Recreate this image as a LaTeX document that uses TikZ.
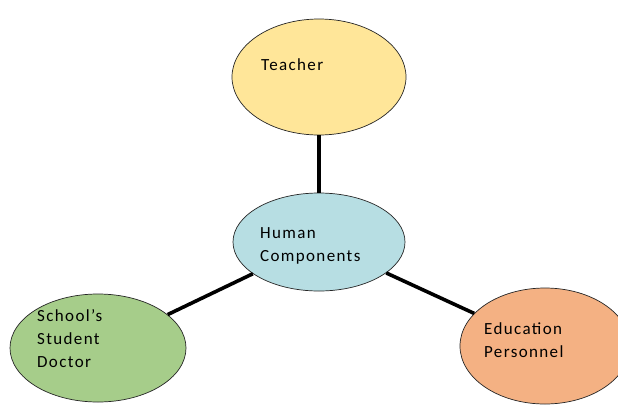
\documentclass[tikz,border=0pt]{standalone}
\usepackage{fontspec}
\setmainfont{Carlito}
\usetikzlibrary{shapes.geometric}
\definecolor{cTeacher}{HTML}{FFE699}
\definecolor{cHuman}{HTML}{B7DEE3}
\definecolor{cSchool}{HTML}{A6CD8A}
\definecolor{cEdu}{HTML}{F4B183}
\tikzset{
  blob/.style={ellipse, draw=black!85, line width=0.7pt, inner sep=0pt},
  lbl/.style={anchor=north west, align=left, inner sep=0pt,
    font={\fontsize{17}{23}\selectfont\addfontfeature{LetterSpace=8}}},
  link/.style={line width=3.6pt, black}
}
\begin{document}
\begin{tikzpicture}[x=1pt,y=-1pt]
\useasboundingbox (0,0) rectangle (618,405);
\clip (0,0) rectangle (618,405);
\fill[white] (0,0) rectangle (618,405);
\node[blob, fill=cTeacher, minimum width=174pt, minimum height=116pt] (teacher) at (319,77) {};
\node[blob, fill=cHuman, minimum width=172pt, minimum height=98pt] (human) at (319,242) {};
\node[blob, fill=cSchool, minimum width=176pt, minimum height=108pt] (school) at (98,348) {};
\node[blob, fill=cEdu, minimum width=170pt, minimum height=116pt] (edu) at (545,346) {};
\draw[link] (teacher) -- (human);
\draw[link] (human) -- (school);
\draw[link] (human) -- (edu);
\node[lbl] (tTeacher) at (261,58) {Teacher};
\node[lbl] (tHuman) at (260,227) {Human\\Components};
\node[lbl] (tSchool) at (37,309) {School's\\Student\\Doctor};
\node[lbl] (tEdu) at (484,322) {Education\\Personnel};
\end{tikzpicture}
\end{document}
